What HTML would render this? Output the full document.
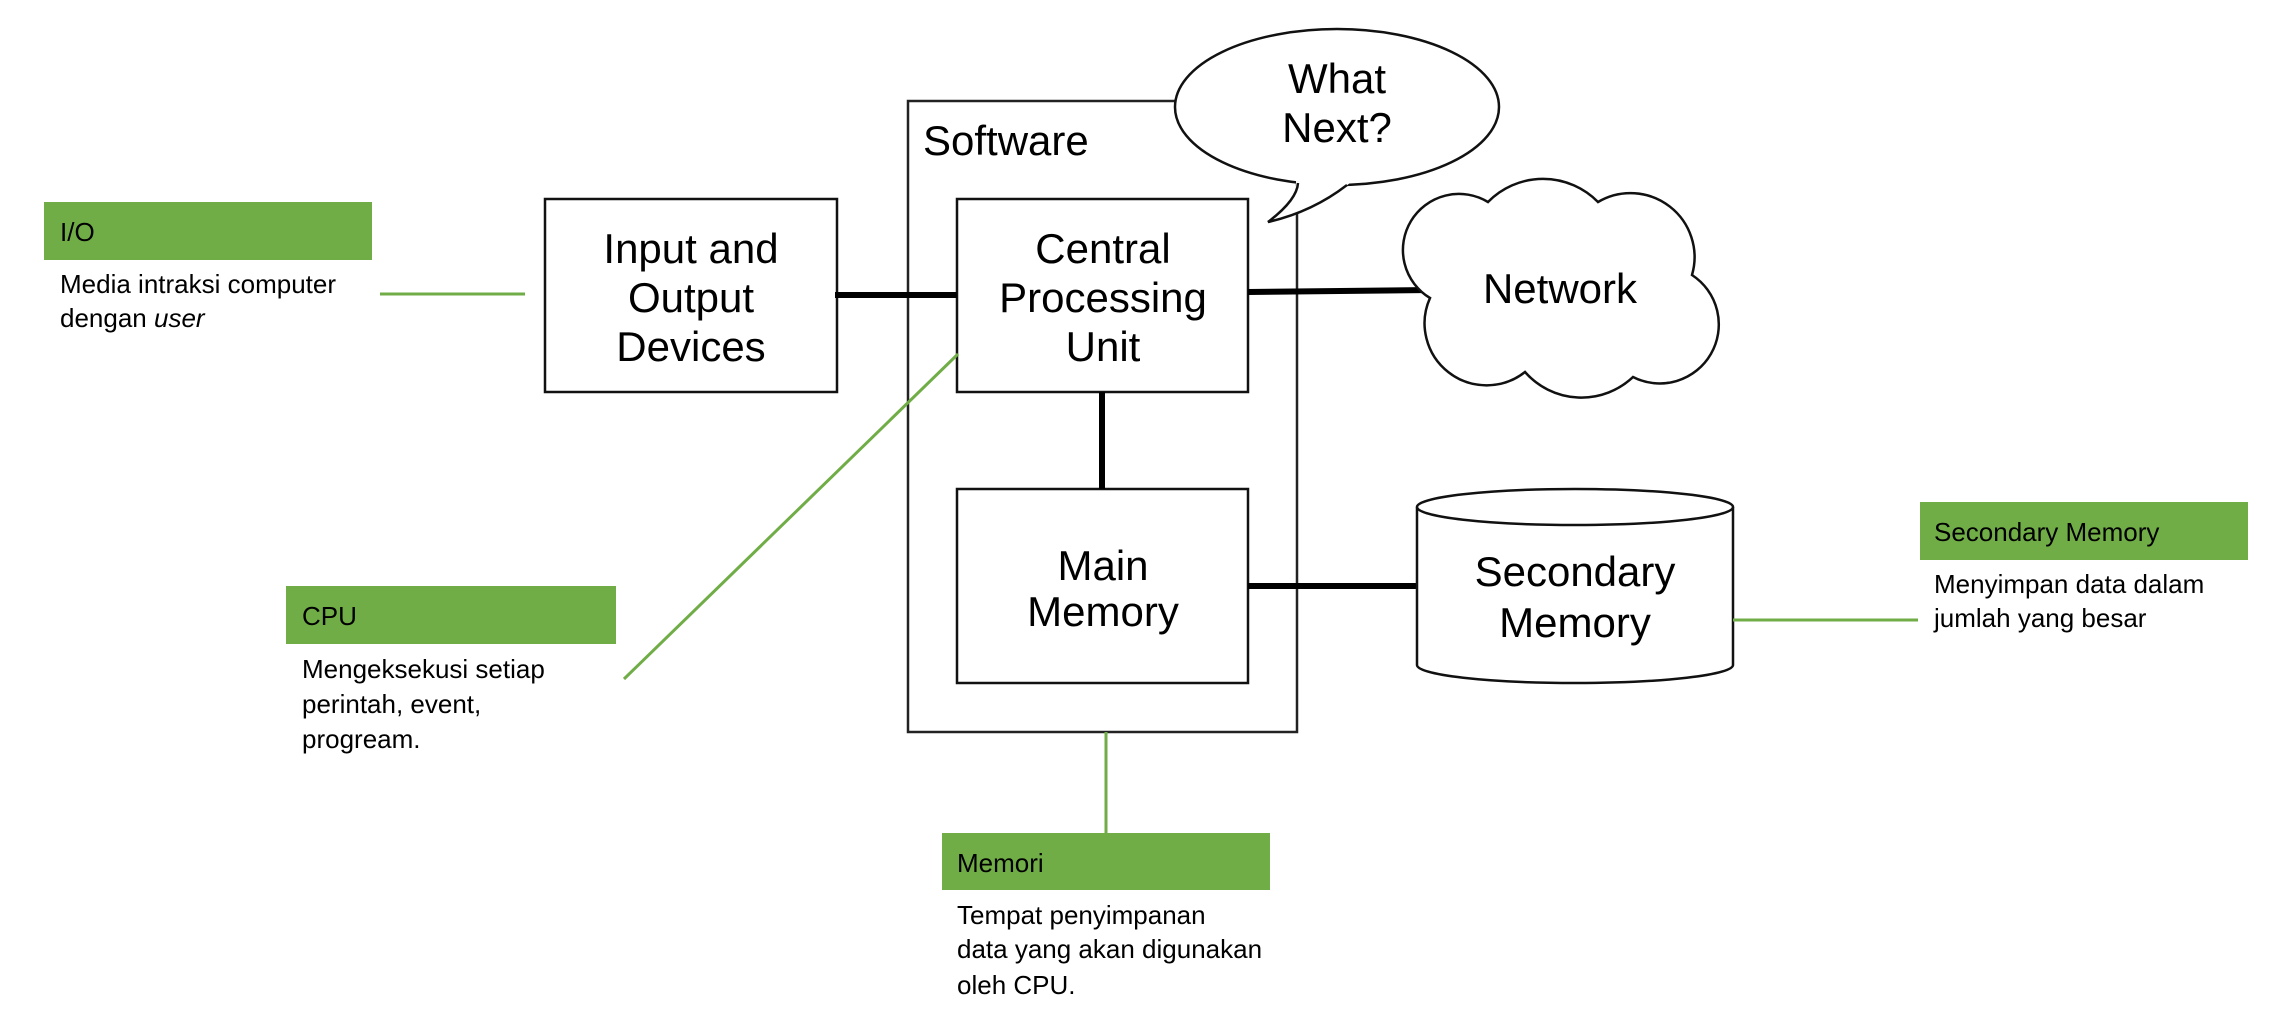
<!DOCTYPE html>
<html><head><meta charset="utf-8"><style>
html,body{margin:0;padding:0;background:#fff;}
svg{display:block;}
.d{font-family:"Liberation Sans",Arial,sans-serif;font-size:42px;fill:#000;text-anchor:middle;}
.n{font-family:"Liberation Sans",Arial,sans-serif;font-size:26px;fill:#000;}
</style></head><body>
<svg width="2284" height="1012" viewBox="0 0 2284 1012" xmlns="http://www.w3.org/2000/svg">
<rect width="2284" height="1012" fill="#fff"/>
<rect x="908" y="101" width="389" height="631" fill="none" stroke="#222" stroke-width="2.5"/>
<text x="923" y="155" class="d" style="text-anchor:start">Software</text>
<rect x="545" y="199" width="292" height="193" fill="#fff" stroke="#111" stroke-width="2.5"/>
<text class="d" x="691" y="263">Input and</text>
<text class="d" x="691" y="312">Output</text>
<text class="d" x="691" y="361">Devices</text>
<rect x="957" y="199" width="291" height="193" fill="#fff" stroke="#111" stroke-width="2.5"/>
<text class="d" x="1103" y="263">Central</text>
<text class="d" x="1103" y="312">Processing</text>
<text class="d" x="1103" y="361">Unit</text>
<rect x="957" y="489" width="291" height="194" fill="#fff" stroke="#111" stroke-width="2.5"/>
<text class="d" x="1103" y="580">Main</text>
<text class="d" x="1103" y="626">Memory</text>
<line x1="835" y1="295" x2="957" y2="295" stroke="#000" stroke-width="6"/>
<line x1="1248" y1="292" x2="1432" y2="290" stroke="#000" stroke-width="6"/>
<line x1="1102" y1="392" x2="1102" y2="489" stroke="#000" stroke-width="6"/>
<line x1="1248" y1="586" x2="1417" y2="586" stroke="#000" stroke-width="6"/>
<ellipse cx="1337" cy="107" rx="162" ry="78" fill="#fff" stroke="#111" stroke-width="2.5"/>
<path d="M1296,181 Q1297,200 1268,222 Q1312,212 1350,183 Z" fill="#fff" stroke="none"/>
<path d="M1298,183 Q1297,200 1268,222 Q1312,212 1347,185" fill="none" stroke="#111" stroke-width="2.5"/>
<text class="d" x="1337" y="93">What</text>
<text class="d" x="1337" y="142">Next?</text>
<path d="M1430,298 A56,56 0 0 1 1488,202 A77,77 0 0 1 1598,202 A64,64 0 0 1 1692,275 A59,59 0 0 1 1633,377 A75,75 0 0 1 1525,372 A62,62 0 0 1 1430,298 Z" fill="#fff" stroke="#111" stroke-width="2.5"/>
<text class="d" x="1560" y="303">Network</text>
<path d="M1417,507 L1417,665 A158,18 0 0 0 1733,665 L1733,507" fill="#fff" stroke="#111" stroke-width="2.5"/>
<ellipse cx="1575" cy="507" rx="158" ry="18" fill="#fff" stroke="#111" stroke-width="2.5"/>
<text class="d" x="1575" y="586">Secondary</text>
<text class="d" x="1575" y="637">Memory</text>
<g stroke="#70ad47" stroke-width="3">
<line x1="380" y1="294" x2="525" y2="294"/>
<line x1="624" y1="679" x2="958" y2="354"/>
<line x1="1106" y1="732" x2="1106" y2="833"/>
<line x1="1733" y1="620" x2="1918" y2="620"/>
</g>
<rect x="44" y="202" width="328" height="58" fill="#70ad47"/>
<text class="n" x="60" y="241">I/O</text>
<text class="n" x="60" y="293">Media intraksi computer</text>
<text class="n" x="60" y="327">dengan <tspan font-style="italic">user</tspan></text>
<rect x="286" y="586" width="330" height="58" fill="#70ad47"/>
<text class="n" x="302" y="625">CPU</text>
<text class="n" x="302" y="678">Mengeksekusi setiap</text>
<text class="n" x="302" y="713">perintah, event,</text>
<text class="n" x="302" y="748">progream.</text>
<rect x="942" y="833" width="328" height="57" fill="#70ad47"/>
<text class="n" x="957" y="872">Memori</text>
<text class="n" x="957" y="924">Tempat penyimpanan</text>
<text class="n" x="957" y="958">data yang akan digunakan</text>
<text class="n" x="957" y="994">oleh CPU.</text>
<rect x="1920" y="502" width="328" height="58" fill="#70ad47"/>
<text class="n" x="1934" y="541">Secondary Memory</text>
<text class="n" x="1934" y="593">Menyimpan data dalam</text>
<text class="n" x="1934" y="627">jumlah yang besar</text>
</svg>
</body></html>
